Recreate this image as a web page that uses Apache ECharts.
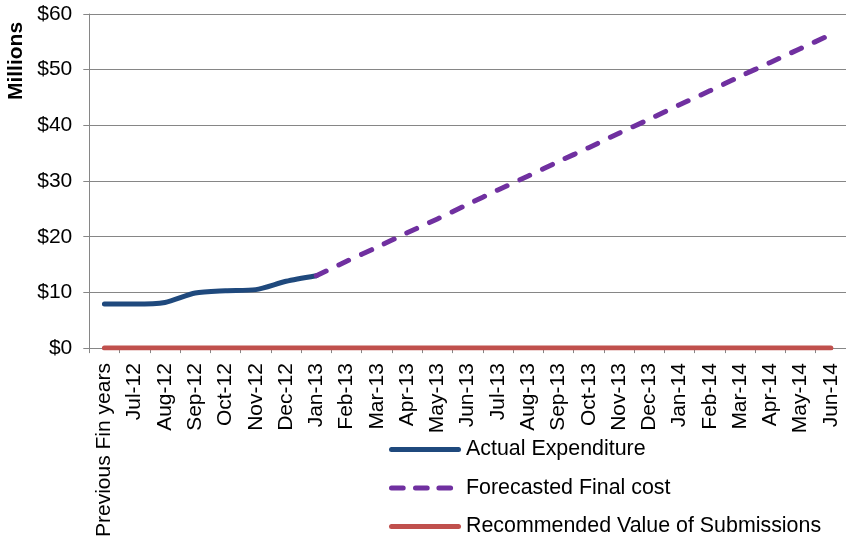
<!DOCTYPE html>
<html>
<head>
<meta charset="utf-8">
<script src="https://cdn.jsdelivr.net/npm/echarts@6/dist/echarts.min.js"></script>
<style>
html,body{margin:0;padding:0;background:#fff;}
#chart{width:846px;height:540px;}
</style>
</head>
<body>
<div id="chart"></div>
<script>
var categories = ["Previous Fin years","Jul-12","Aug-12","Sep-12","Oct-12","Nov-12","Dec-12","Jan-13","Feb-13","Mar-13","Apr-13","May-13","Jun-13","Jul-13","Aug-13","Sep-13","Oct-13","Nov-13","Dec-13","Jan-14","Feb-14","Mar-14","Apr-14","May-14","Jun-14"];
var actualExpenditure = [7.9, 7.9, 8.2, 9.9, 10.3, 10.5, 12.0, 13.0, null, null, null, null, null, null, null, null, null, null, null, null, null, null, null, null, null];
var forecastedFinalCost = [null, null, null, null, null, null, null, 13.0, 15.6, 18.1, 20.7, 23.2, 25.8, 28.4, 30.9, 33.5, 36.0, 38.6, 41.1, 43.7, 46.2, 48.8, 51.3, 53.8, 56.3];
var recommendedValue = [0,0,0,0,0,0,0,0,0,0,0,0,0,0,0,0,0,0,0,0,0,0,0,0,0];
var yTicks = {min: 0, max: 60, interval: 10};

var FONT = '"Liberation Sans", Arial, sans-serif';
var solidIcon = 'path://M2.5,0 L69.5,0 A2.5,2.5 0 0 1 69.5,5 L2.5,5 A2.5,2.5 0 0 1 2.5,0 Z';
var dashIcon = 'path://M2.5,0 L14.2,0 A2.5,2.5 0 0 1 14.2,5 L2.5,5 A2.5,2.5 0 0 1 2.5,0 Z ' +
  'M26.5,0 L38.2,0 A2.5,2.5 0 0 1 38.2,5 L26.5,5 A2.5,2.5 0 0 1 26.5,0 Z ' +
  'M49.9,0 L61.6,0 A2.5,2.5 0 0 1 61.6,5 L49.9,5 A2.5,2.5 0 0 1 49.9,0 Z M72,2.5 L72,2.5 Z';

var chart = echarts.init(document.getElementById('chart'));
chart.setOption({
  animation: false,
  backgroundColor: '#ffffff',
  textStyle: {fontFamily: FONT},
  grid: {left: 89.3, top: 14, width: 764.5, bottom: 189.3, containLabel: false},
  graphic: [{
    type: 'text',
    x: 15.8, y: 61, rotation: Math.PI / 2,
    style: {text: 'Millions', font: 'bold 21px ' + FONT, fill: '#000', align: 'center', verticalAlign: 'middle'}
  }],
  legend: {
    orient: 'vertical',
    left: 389, top: 439, padding: 0,
    itemWidth: 72, itemHeight: 5, itemGap: 17.5,
    textStyle: {fontSize: 21.4, color: '#000', fontFamily: FONT, lineHeight: 21},
    itemStyle: {borderWidth: 0},
    data: [
      {name: 'Actual Expenditure', icon: solidIcon},
      {name: 'Forecasted Final cost', icon: dashIcon},
      {name: 'Recommended Value of Submissions', icon: solidIcon}
    ]
  },
  xAxis: {
    type: 'category',
    data: categories,
    boundaryGap: true,
    axisLine: {lineStyle: {color: '#868686', width: 1}},
    axisTick: {show: true, length: 5, interval: 0, lineStyle: {color: '#868686'}},
    axisLabel: {interval: 0, rotate: 90, margin: 15, fontSize: 21, color: '#000', fontFamily: FONT},
    splitLine: {show: false}
  },
  yAxis: {
    type: 'value',
    min: yTicks.min, max: yTicks.max, interval: yTicks.interval,
    axisLine: {show: true, lineStyle: {color: '#868686', width: 1}},
    axisTick: {show: true, length: 6, lineStyle: {color: '#868686'}},
    axisLabel: {margin: 17, fontSize: 21, color: '#000', fontFamily: FONT, formatter: function(v){return '$' + v;}},
    splitLine: {show: true, lineStyle: {color: '#868686', width: 1.2}}
  },
  series: [
    {
      name: 'Actual Expenditure', type: 'line', data: actualExpenditure,
      symbol: 'none', smooth: 0.25, connectNulls: false,
      lineStyle: {color: '#1F497D', width: 5, cap: 'round', join: 'round'},
      itemStyle: {color: '#1F497D'}, z: 3
    },
    {
      name: 'Forecasted Final cost', type: 'line', data: forecastedFinalCost,
      symbol: 'none', smooth: 0.25,
      lineStyle: {color: '#7030A0', width: 5, type: [11, 14], cap: 'round', join: 'round'},
      itemStyle: {color: '#7030A0'}, z: 3
    },
    {
      name: 'Recommended Value of Submissions', type: 'line', data: recommendedValue,
      symbol: 'none',
      lineStyle: {color: '#C0504D', width: 5, cap: 'round'},
      itemStyle: {color: '#C0504D'}, z: 4
    }
  ]
});
</script>
</body>
</html>
